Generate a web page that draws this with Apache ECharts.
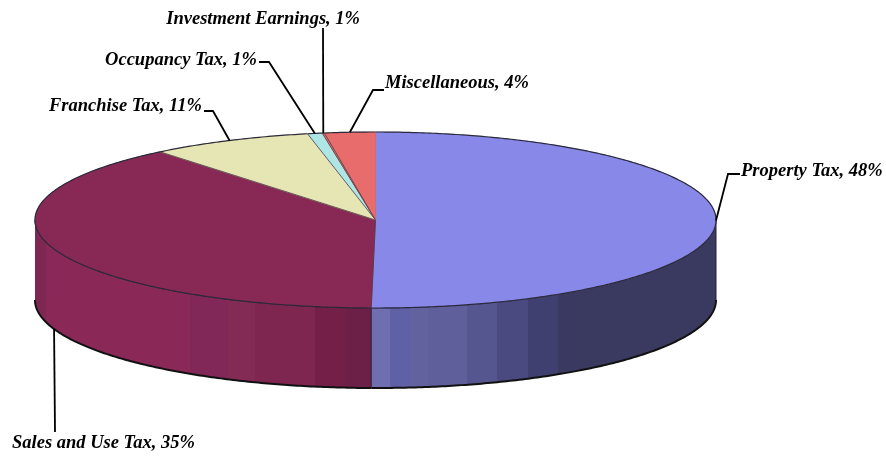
<!DOCTYPE html>
<html>
<head>
<meta charset="utf-8">
<style>html,body{margin:0;padding:0;background:#fff}#c{width:886px;height:456px}</style>
<script src="https://cdn.jsdelivr.net/npm/echarts@6/dist/echarts.min.js"></script>
</head>
<body>
<div id="c"></div>
<script>
// Categories and the percentages printed on the chart
const categories = ['Property Tax', 'Sales and Use Tax', 'Franchise Tax', 'Occupancy Tax', 'Investment Earnings', 'Miscellaneous'];
const printedPercent = [48, 35, 11, 1, 1, 4];
// Share of the ellipse each slice occupies as drawn (the picture's 3D view does not match the printed figures)
const drawnShare = [50.2, 38.9, 7.7, 0.7, 0.1, 2.4];
const topColors = ['#8888E8', '#882855', '#E6E6B4', '#AEE6E6', '#E86C6C', '#E86C6C'];

// Geometry
const cx = 375.5, cy = 220, rx = 340.5, ry = 88, depth = 80;
const toAngle = s => s * 3.6 * Math.PI / 180;
const rim = (a, dy) => [cx + rx * Math.sin(a), cy - ry * Math.cos(a) + (dy || 0)];

// Wall shading bands, [start x, colour]
const wallBands = {
  0: [[370,'#6E6EB0'],[390,'#6060A6'],[410,'#62629F'],[428,'#5F5F9C'],[467,'#555590'],[497,'#4A4A80'],[528,'#404070'],[558,'#3A3A60'],[716,'#3A3A60']],
  1: [[35,'#7F2753'],[46,'#8A2858'],[190,'#812858'],[228,'#832A55'],[255,'#7E2650'],[315,'#741F47'],[345,'#6C2048'],[371,'#6C2048']]
};
function bandGradient(bands) {
  const x0 = bands[0][0], x1 = bands[bands.length - 1][0], stops = [];
  bands.forEach((b, i) => {
    if (i === bands.length - 1) return;
    stops.push({ offset: (b[0] - x0) / (x1 - x0), color: b[1] });
    stops.push({ offset: (bands[i + 1][0] - x0) / (x1 - x0), color: b[1] });
  });
  return new echarts.graphic.LinearGradient(x0, 0, x1, 0, stops, true);
}

// Label text boxes and leader knees
const labelLayout = [
  { x: 741, y: 171, align: 'left',  path: [[728,174],[740,174]] },
  { x: 12,  y: 443, align: 'left',  path: [[55,432]], onWall: true },
  { x: 202, y: 106, align: 'right', path: [[213,111],[204,111]] },
  { x: 257, y: 60,  align: 'right', path: [[269,62],[259,62]] },
  { x: 360, y: 19,  align: 'right', path: [[323,28]] },
  { x: 385, y: 83,  align: 'left',  path: [[373,90],[384,90]] }
];

let run = 0;
const rows = drawnShare.map((s, i) => { const r = [run, run + s, printedPercent[i], i]; run += s; return r; });

function arc(a0, a1, dy) {
  const n = Math.max(2, Math.ceil((a1 - a0) / 0.01)), pts = [];
  for (let i = 0; i <= n; i++) pts.push(rim(a0 + (a1 - a0) * i / n, dy));
  return pts;
}

const option = {
  animation: false,
  backgroundColor: '#fff',
  series: [
    { // side wall
      type: 'custom', coordinateSystem: 'none', silent: true, z: 1, data: rows,
      renderItem(params, api) {
        const a0 = toAngle(api.value(0)), a1 = toAngle(api.value(1));
        const lo = Math.max(a0, Math.PI / 2), hi = Math.min(a1, 3 * Math.PI / 2);
        if (hi <= lo) return { type: 'group', children: [] };
        const i = api.value(3);
        const top = arc(lo, hi, 0), bottom = arc(lo, hi, depth);
        return { type: 'group', children: [
          { type: 'polygon', shape: { points: top.concat(bottom.slice().reverse()) },
            style: { fill: bandGradient(wallBands[i]), stroke: null } },
          { type: 'polyline', shape: { points: bottom }, style: { fill: null, stroke: '#111', lineWidth: 2 } },
          { type: 'polyline', shape: { points: top }, style: { fill: null, stroke: '#2a1a38', lineWidth: 1 } },
          { type: 'polyline', shape: { points: [top[0], bottom[0]] }, style: { fill: null, stroke: '#2a1a38', lineWidth: 1 } }
        ] };
      }
    },
    { // top face
      type: 'custom', coordinateSystem: 'none', silent: true, z: 2, data: rows,
      renderItem(params, api) {
        const a0 = toAngle(api.value(0)), a1 = toAngle(api.value(1));
        const i = api.value(3);
        const edge = arc(a0, a1, 0);
        return { type: 'group', children: [
          { type: 'polygon', shape: { points: [[cx, cy]].concat(edge) },
            style: { fill: topColors[i], stroke: topColors[i], lineWidth: 0.5 } },
          { type: 'polyline', shape: { points: [[cx, cy], edge[0]] }, style: { fill: null, stroke: i === 0 ? '#6a5a90' : '#4a3a40', lineWidth: 0.8 } },
          { type: 'polyline', shape: { points: edge }, style: { fill: null, stroke: '#2a2a3a', lineWidth: 1.2 } }
        ] };
      }
    },
    { // labels with leaders
      type: 'custom', coordinateSystem: 'none', silent: true, z: 3, data: rows,
      renderItem(params, api) {
        const i = api.value(3), l = labelLayout[i];
        const mid = toAngle((api.value(0) + api.value(1)) / 2);
        const pts = [rim(mid, l.onWall ? depth : 0)].concat(l.path);
        return { type: 'group', children: [
          { type: 'polyline', shape: { points: pts }, style: { fill: null, stroke: '#000', lineWidth: 1.8 } },
          { type: 'text', x: l.x, y: l.y, style: {
              text: categories[i] + ', ' + api.value(2) + '%',
              font: 'italic bold 18.5px "Liberation Serif"', fill: '#000',
              textAlign: l.align, textVerticalAlign: 'middle' } }
        ] };
      }
    }
  ]
};
echarts.init(document.getElementById('c'), null, { renderer: 'canvas' }).setOption(option);
</script>
</body>
</html>
